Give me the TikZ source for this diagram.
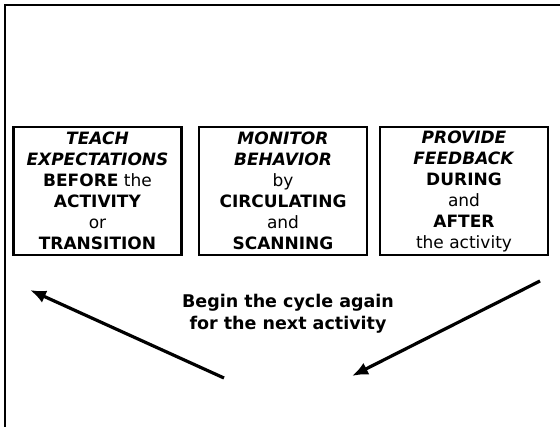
\documentclass[tikz,border=0pt]{standalone}
\usepackage{fontspec}
\setmainfont{DejaVu Sans}[ItalicFont={DejaVu Sans Oblique},BoldItalicFont={DejaVu Sans Bold Oblique}]
\usetikzlibrary{arrows.meta}

\tikzstyle{step box}=[draw=black, line width=2.4pt, minimum width=168pt, minimum height=128pt, inner sep=0pt, align=center, font=\fontsize{17}{21}\selectfont]
\tikzstyle{frame line}=[line width=1.5pt]
\tikzstyle{cycle arrow}=[line width=3.2pt, -{Latex[length=16pt,width=13pt]}]
\tikzstyle{cycle text}=[align=center, font=\bfseries\fontsize{17.5}{22}\selectfont]

\newcommand{\headword}[1]{\textbf{\textit{#1}}}

\begin{document}
\begin{tikzpicture}[x=1pt,y=-1pt]
	\useasboundingbox (0,0) rectangle (560,427);
	\draw[frame line] (5,427) -- (5,5) -- (560,5);

	\coordinate (P1) at ( 97.5,191);
	\coordinate (P2) at (283,191);
	\coordinate (P3) at (464,191);

	\node[step box] (teach) at (P1) {\headword{TEACH}\\\headword{EXPECTATIONS}\\\textbf{BEFORE} the\\\textbf{ACTIVITY}\\or\\\textbf{TRANSITION}};
	\node[step box] (monitor) at (P2) {\headword{MONITOR}\\\headword{BEHAVIOR}\\by\\\textbf{CIRCULATING}\\and\\\textbf{SCANNING}};
	\node[step box] (feedback) at (P3) {\headword{PROVIDE}\\\headword{FEEDBACK}\\\textbf{DURING}\\and\\\textbf{AFTER}\hspace*{22pt}\\the activity};

	\node[cycle text] (again) at (288,314) {Begin the cycle again\\for the next activity};

	\coordinate (left tail) at (224,378);
	\coordinate (left tip) at (30,290);
	\coordinate (right tail) at (540,281);
	\coordinate (right tip) at (352,376);
	\draw[cycle arrow] (left tail) -- (left tip);
	\draw[cycle arrow] (right tail) -- (right tip);
\end{tikzpicture}
\end{document}
